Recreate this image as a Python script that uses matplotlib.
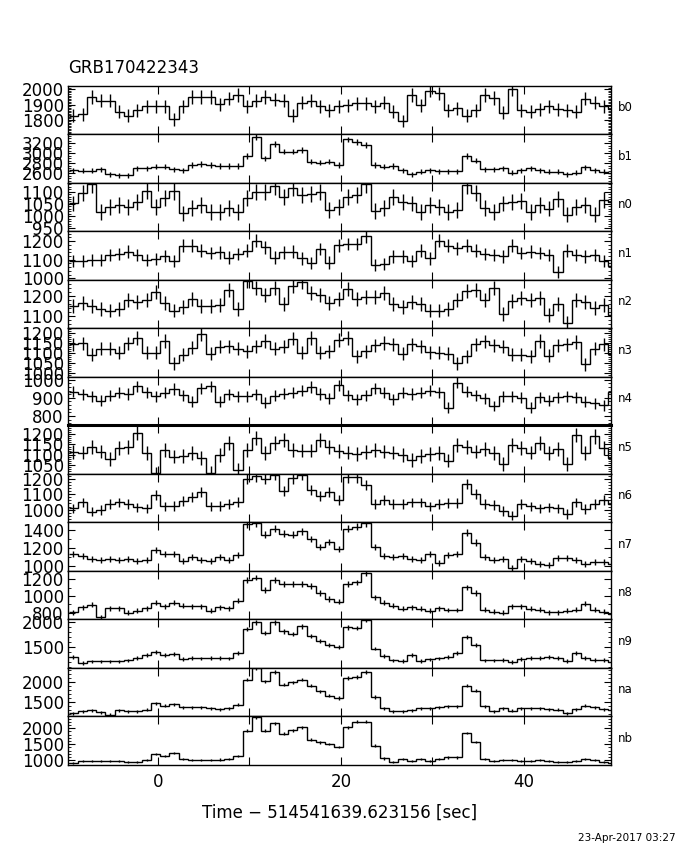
import numpy as np
import matplotlib
matplotlib.use('Agg')
import matplotlib.pyplot as plt
from matplotlib.ticker import MultipleLocator, FuncFormatter

plt.rcParams['font.family'] = ['DejaVu Sans']

# 1 s bins, first bin starts at -9.75 s
BIN_START = -9.75
BIN_WIDTH = 1.0

detectors = ['b0', 'b1', 'n0', 'n1', 'n2', 'n3', 'n4', 'n5', 'n6', 'n7', 'n8', 'n9', 'na', 'nb']

# count rates (counts/s)
b0 = [1827, 1835, 1950, 1926, 1926, 1852, 1827, 1864, 1889, 1889, 1889, 1803, 1889, 1950, 1950, 1950, 1901, 1938, 1963, 1889,
      1926, 1950, 1933, 1926, 1827, 1913, 1926, 1889, 1864, 1889, 1894, 1909, 1909, 1889, 1913, 1852, 1791, 1963, 1894, 1992,
      1975, 1864, 1877, 1827, 1864, 1963, 1943, 1845, 2000, 1864, 1852, 1869, 1889, 1869, 1864, 1852, 1938, 1913, 1889, 1869]
b1 = [2661, 2648, 2648, 2674, 2580, 2560, 2560, 2694, 2694, 2728, 2728, 2681, 2661, 2762, 2782, 2762, 2742, 2742, 2742, 2943,
      3333, 2896, 3185, 3031, 3031, 3064, 2829, 2809, 2829, 2762, 3279, 3232, 3165, 2762, 2728, 2742, 2661, 2580, 2627, 2661,
      2641, 2641, 2641, 2943, 2849, 2674, 2674, 2701, 2607, 2661, 2694, 2661, 2627, 2627, 2580, 2607, 2714, 2661, 2627, 2594]
n0 = [1052, 1094, 1130, 1018, 1038, 1045, 1038, 1059, 1104, 1038, 1073, 1101, 1011, 1034, 1045, 1018, 1018, 1034, 1018, 1073,
      1098, 1098, 1122, 1080, 1115, 1087, 1090, 1098, 1024, 1038, 1080, 1087, 1130, 1020, 1034, 1080, 1057, 1052, 1018, 1045,
      1038, 1018, 1024, 1126, 1094, 1034, 1018, 1052, 1057, 1062, 1018, 1045, 1031, 1070, 1006, 1038, 1045, 1006, 1066, 1059]
n1 = [1094, 1094, 1098, 1098, 1125, 1130, 1143, 1125, 1100, 1103, 1121, 1094, 1175, 1175, 1148, 1135, 1139, 1112, 1130, 1148,
      1202, 1166, 1112, 1139, 1143, 1107, 1082, 1157, 1085, 1178, 1184, 1184, 1225, 1071, 1076, 1118, 1118, 1094, 1148, 1107,
      1202, 1175, 1161, 1175, 1148, 1130, 1125, 1118, 1175, 1135, 1143, 1135, 1125, 1032, 1148, 1125, 1118, 1125, 1094, 1064]
n2 = [1150, 1167, 1150, 1136, 1128, 1136, 1179, 1170, 1179, 1221, 1167, 1128, 1145, 1184, 1150, 1150, 1157, 1229, 1136, 1275,
      1241, 1207, 1238, 1162, 1251, 1272, 1217, 1207, 1167, 1187, 1234, 1187, 1194, 1197, 1217, 1162, 1145, 1170, 1162, 1128,
      1128, 1136, 1179, 1224, 1229, 1179, 1238, 1111, 1174, 1190, 1179, 1190, 1106, 1162, 1069, 1179, 1170, 1140, 1157, 1106]
n3 = [1144, 1149, 1093, 1122, 1122, 1102, 1149, 1178, 1102, 1102, 1161, 1048, 1093, 1127, 1195, 1098, 1132, 1135, 1122, 1110,
      1135, 1161, 1122, 1132, 1173, 1102, 1178, 1102, 1110, 1166, 1178, 1085, 1110, 1139, 1152, 1144, 1098, 1144, 1135, 1105,
      1102, 1098, 1048, 1085, 1144, 1159, 1139, 1132, 1093, 1093, 1085, 1161, 1088, 1139, 1144, 1156, 1043, 1122, 1144, 1098]
n4 = [934, 919, 908, 883, 912, 927, 921, 964, 930, 908, 927, 949, 915, 878, 953, 964, 878, 919, 908, 908,
      919, 874, 912, 923, 927, 940, 959, 921, 897, 968, 915, 893, 915, 953, 927, 893, 927, 921, 927, 940,
      930, 846, 983, 934, 915, 897, 855, 908, 908, 900, 846, 902, 883, 902, 908, 902, 878, 870, 859, 934]
n5 = [1113, 1111, 1137, 1116, 1079, 1132, 1137, 1205, 1108, 1012, 1124, 1092, 1095, 1108, 1084, 1014, 1100, 1156, 1027, 1124,
      1181, 1108, 1156, 1173, 1124, 1121, 1121, 1173, 1140, 1118, 1111, 1105, 1115, 1124, 1116, 1111, 1100, 1076, 1095, 1105,
      1108, 1072, 1148, 1137, 1116, 1127, 1108, 1056, 1148, 1132, 1111, 1156, 1108, 1127, 1056, 1197, 1108, 1189, 1132, 1084]
n6 = [1008, 1047, 986, 999, 1036, 1047, 1036, 1014, 1008, 1096, 1021, 1025, 1058, 1080, 1118, 1021, 1025, 1036, 1052, 1202,
      1220, 1202, 1228, 1125, 1206, 1230, 1131, 1092, 1118, 1065, 1213, 1213, 1162, 1036, 1065, 1036, 1036, 1047, 1047, 1021,
      1036, 1043, 1043, 1169, 1103, 1036, 1030, 992, 959, 1036, 1021, 1008, 1014, 1008, 970, 1047, 1003, 1036, 1065, 1036]
n7 = [1136, 1106, 1080, 1062, 1076, 1069, 1080, 1050, 1069, 1173, 1128, 1128, 1050, 1098, 1069, 1050, 1098, 1069, 1124, 1458,
      1472, 1347, 1413, 1358, 1347, 1383, 1295, 1209, 1265, 1191, 1413, 1431, 1469, 1209, 1109, 1098, 1109, 1073, 1062, 1130,
      1036, 1124, 1136, 1369, 1258, 1098, 1062, 1073, 976, 1073, 1050, 1025, 1014, 1087, 1091, 1062, 1021, 1047, 1047, 1025]
n8 = [806, 866, 894, 747, 854, 854, 799, 826, 854, 918, 877, 918, 886, 877, 877, 826, 866, 854, 945, 1193,
      1221, 1075, 1193, 1142, 1142, 1142, 1122, 1036, 965, 933, 1142, 1162, 1280, 984, 918, 886, 846, 866, 846, 826,
      854, 834, 834, 1103, 1036, 838, 815, 799, 877, 877, 846, 838, 806, 806, 826, 838, 906, 838, 815, 787]
n9 = [1304, 1184, 1217, 1217, 1217, 1217, 1237, 1291, 1338, 1404, 1338, 1371, 1271, 1284, 1277, 1291, 1291, 1277, 1384, 1853,
      1986, 1772, 1986, 1806, 1752, 1906, 1719, 1625, 1538, 1505, 1886, 1873, 2027, 1471, 1318, 1237, 1224, 1338, 1224, 1257,
      1277, 1304, 1384, 1692, 1538, 1237, 1237, 1251, 1204, 1271, 1291, 1291, 1304, 1291, 1224, 1384, 1291, 1251, 1251, 1204]
na = [1214, 1256, 1281, 1231, 1172, 1281, 1256, 1256, 1298, 1464, 1398, 1439, 1356, 1364, 1364, 1339, 1314, 1339, 1423, 2048,
      2330, 2006, 2232, 1923, 1981, 2048, 1898, 1756, 1648, 1589, 2090, 2115, 2232, 1614, 1339, 1256, 1264, 1281, 1339, 1339,
      1364, 1381, 1381, 1898, 1773, 1381, 1256, 1339, 1272, 1339, 1339, 1339, 1314, 1298, 1214, 1314, 1398, 1364, 1314, 1281]
nb = [926, 968, 968, 979, 979, 968, 958, 947, 1000, 1193, 1129, 1214, 1033, 1000, 1000, 1000, 1022, 1033, 1140, 1921,
      2349, 1921, 2156, 1835, 1942, 2028, 1642, 1557, 1514, 1407, 2028, 2210, 2210, 1460, 1054, 958, 1033, 979, 1033, 979,
      1033, 1086, 1086, 1856, 1568, 1043, 979, 1000, 1000, 979, 979, 1000, 979, 958, 958, 979, 1043, 1011, 958, 926]

rates = [b0, b1, n0, n1, n2, n3, n4, n5, n6, n7, n8, n9, na, nb]

# y range and tick spacing (major, minor) of each panel
ylims = [(1703, 2024), (2405, 3380), (938, 1136), (992, 1252), (1040, 1280), (980, 1225), (748, 1015),
         (1008, 1242), (915, 1235), (945, 1480), (720, 1300), (1090, 2040), (1130, 2340), (850, 2370)]
yticks = [(100, 10), (200, 50), (50, 10), (100, 20), (100, 20), (50, 10), (100, 20),
          (50, 10), (100, 20), (200, 100), (200, 100), (500, 100), (500, 100), (500, 100)]

t_offset = '514541639.623156'
title = 'GRB170422343'
date = '23-Apr-2017 03:27'


def main():
    fig, axes = plt.subplots(len(detectors), 1, sharex=True, figsize=(6.8, 8.5), dpi=100)
    fig.subplots_adjust(left=0.1, right=0.8985, top=0.899, bottom=0.1, hspace=0)

    for ax, name, rate, (lo, hi), (major, minor) in zip(axes, detectors, rates, ylims, yticks):
        rate = np.array(rate, dtype=float)
        edges = BIN_START + BIN_WIDTH * np.arange(len(rate) + 1)
        centers = 0.5 * (edges[:-1] + edges[1:])
        err = np.sqrt(rate * BIN_WIDTH) / BIN_WIDTH
        ax.stairs(rate, edges, baseline=None, color='k', lw=1.0)
        ax.vlines(centers, rate - err, rate + err, color='k', lw=1.0)
        ax.set_xlim(-9.85, 49.55)
        ax.set_ylim(lo, hi)
        ax.xaxis.set_major_locator(MultipleLocator(10))
        ax.yaxis.set_major_locator(MultipleLocator(major))
        ax.yaxis.set_minor_locator(MultipleLocator(minor))
        ax.tick_params(which='both', direction='in', top=True, right=True, labelsize=12)
        ax.tick_params(axis='y', which='major', length=5, pad=3)
        ax.tick_params(axis='y', which='minor', length=2.5)
        ax.tick_params(axis='x', which='major', length=6, pad=6)
        for sp in ax.spines.values():
            sp.set_linewidth(1.0)
        ax.text(1.012, 0.55, name, transform=ax.transAxes, fontsize=8.5, va='center', ha='left')

    # the n4/n5 border is drawn heavier in the original
    axes[detectors.index('n5')].spines['top'].set_linewidth(2.2)

    axes[-1].xaxis.set_major_formatter(FuncFormatter(lambda v, p: '%d' % v if v % 20 == 0 else ''))
    axes[-1].set_xlabel('Time \u2212 ' + t_offset + ' [sec]', fontsize=12, labelpad=9)

    fig.text(0.1, 1 - 68 / 850.0, title, fontsize=12, ha='left', va='center')
    fig.text(676 / 680.0, 1 - 838 / 850.0, date, fontsize=7.5, ha='right', va='center')

    fig.savefig('out.png', dpi=100)


if __name__ == '__main__':
    main()
